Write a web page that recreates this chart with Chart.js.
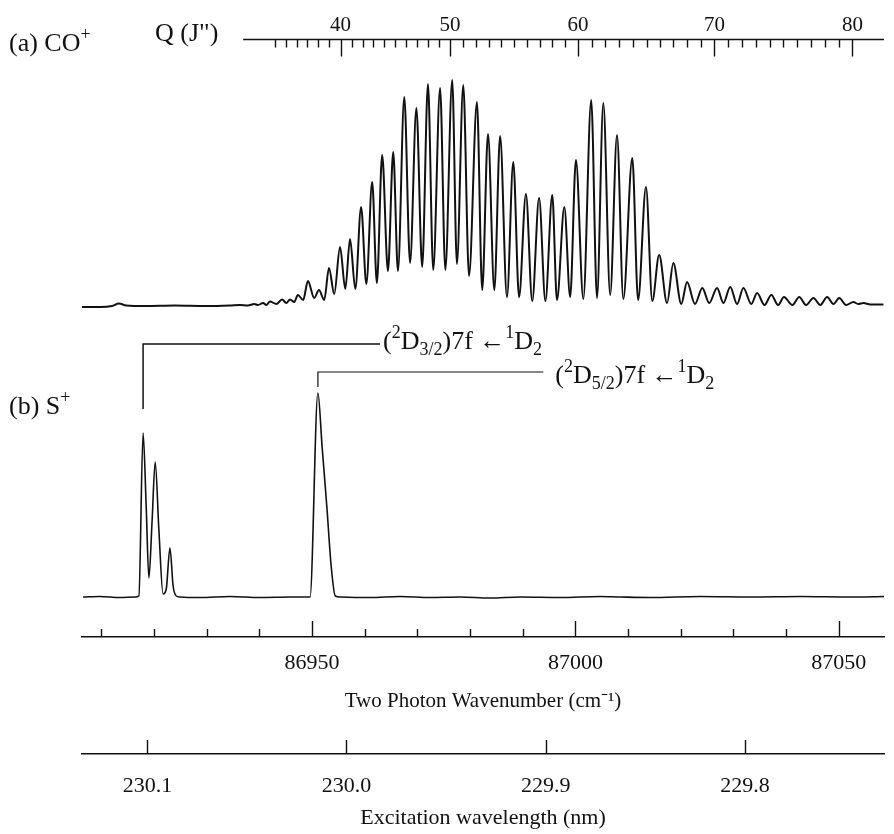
<!DOCTYPE html>
<html>
<head>
<meta charset="utf-8">
<title>CO+ / S+ two-photon spectra</title>
<script src="https://cdn.jsdelivr.net/npm/chart.js@4.4.1/dist/chart.umd.min.js"></script>
<style>
  html, body { margin: 0; padding: 0; background: #fff; }
  #chart { display: block; }
</style>
</head>
<body>
<canvas id="chart" width="894" height="834"></canvas>
<script>
// (a) CO+ spectrum: two photon wavenumber (cm-1) and signal (arb. units)
const coWn = [
  86906.3, 86909.7, 86912.0, 86913.3, 86914.7, 86918.3, 86924.0, 86929.7, 86934.4, 86936.3,
  86937.8, 86939.0, 86939.7, 86940.7, 86941.3, 86942.0, 86943.2, 86944.3, 86945.1, 86945.8,
  86946.6, 86947.3, 86948.3, 86949.2, 86950.4, 86951.3, 86952.3, 86953.2, 86954.2, 86955.3,
  86956.3, 86957.2, 86958.2, 86959.3, 86960.3, 86961.4, 86962.3, 86963.3, 86964.4, 86965.4,
  86966.3, 86967.5, 86968.6, 86969.8, 86970.9, 86972.0, 86973.0, 86974.3, 86975.3, 86976.6,
  86977.5, 86978.7, 86979.8, 86981.3, 86982.3, 86983.4, 86984.6, 86985.7, 86987.0, 86988.2,
  86989.3, 86990.6, 86991.8, 86993.1, 86994.3, 86995.6, 86996.5, 86997.9, 86999.0, 87000.1,
  87001.5, 87003.0, 87004.1, 87005.3, 87006.6, 87007.9, 87009.1, 87010.8, 87011.9, 87013.4,
  87014.6, 87015.9, 87017.4, 87018.6, 87020.1, 87021.2, 87022.7, 87024.1, 87025.4, 87026.9,
  87028.1, 87029.4, 87030.7, 87031.9, 87033.4, 87034.5, 87035.9, 87037.2, 87038.5, 87039.6,
  87041.2, 87042.5, 87043.8, 87045.2, 87046.5, 87047.8, 87049.0, 87050.1, 87051.4, 87052.8,
  87053.7, 87054.7, 87056.0, 87058.5
];
const coInt = [
  0, 0, 1, 3.5, 1.5, 1, 1.5, 1, 1.5, 2,
  1.5, 3, 2, 4, 2, 5.5, 3, 7.5, 4, 7.5,
  5, 12, 7, 26, 9, 17, 7, 39, 13, 60,
  18, 68, 18, 100, 23, 125, 24, 152, 36, 155,
  36, 210, 44, 199, 40, 223, 37, 219, 37, 227,
  43, 222, 31, 205, 17, 173, 17, 171, 10, 145,
  10, 113, 6, 109, 6, 112, 7, 100, 10, 147,
  8, 207, 9, 204, 12, 172, 8, 149, 7, 120,
  6, 52, 4, 44, 3, 25, 3, 19, 4, 19,
  4, 20, 3, 19, 3, 14, 2, 12, 2, 10,
  2, 10, 2, 9, 2, 10, 3, 9, 2, 5,
  3, 4, 2.5, 2.5
];

// (b) S+ spectrum
const sWn = [
  86906.5, 86909.7, 86913.5, 86916.4, 86917.1, 86917.9, 86918.5, 86919.0, 86919.6, 86920.2,
  86920.9, 86921.7, 86922.3, 86923.0, 86923.6, 86924.2, 86924.9, 86928.7, 86934.4, 86940.1,
  86945.8, 86949.6, 86951.1, 86951.9, 86952.8, 86953.6, 86954.4, 86955.3, 86961.0, 86966.7,
  86972.4, 86978.1, 86983.8, 86989.5, 86997.1, 87004.7, 87008.5, 87014.2, 87023.7, 87033.2,
  87042.7, 87052.2, 87058.6
];
const sInt = [
  0, 0.5, -0.5, 0, 1, 164, 89, 19, 75, 135,
  67, 3, 8, 49, 11, 1, 0, -0.5, 0.5, -0.5,
  0, 0, 204, 150, 90, 32, 1, 0, -0.5, 0.5,
  -0.5, 0, -1, 0, -0.5, 0.5, 0, -0.5, 0.5, 0,
  0.5, 0, 0.5
];

// assignment brackets over the S+ lines
const d32Wn = [86917.9, 86917.9, 86962.9];
const d32Int = [188, 253, 253];
const d52Wn = [86951.1, 86951.1, 86993.9];
const d52Int = [210, 225, 225];

// Q(J") rotational line positions (top scale)
const qJ = [34, 35, 36, 37, 38, 39, 40, 41, 42, 43, 44, 45, 46, 47, 48, 49, 50,
  51, 52, 53, 54, 55, 56, 57, 58, 59, 60, 61, 62, 63, 64, 65, 66, 67, 68, 69, 70,
  71, 72, 73, 74, 75, 76, 77, 78, 79, 80];
const qWn = [86942.9, 86945.0, 86947.1, 86949.1, 86951.2, 86953.3, 86955.4,
  86957.5, 86959.6, 86961.6, 86963.7, 86965.8, 86967.9, 86970.0, 86972.0, 86974.1, 86976.2,
  86978.6, 86981.1, 86983.5, 86985.9, 86988.4, 86990.8, 86993.2, 86995.6, 86998.1, 87000.5,
  87003.1, 87005.7, 87008.3, 87010.9, 87013.5, 87016.0, 87018.6, 87021.2, 87023.8, 87026.4,
  87029.0, 87031.6, 87034.3, 87036.9, 87039.5, 87042.1, 87044.7, 87047.4, 87050.0, 87052.6];

// bottom scales
const wnTicks = [86910, 86920, 86930, 86940, 86950, 86960, 86970, 86980, 86990,
  87000, 87010, 87020, 87030, 87040, 87050];
const wlTicks = [230.1, 230.0, 229.9, 229.8];

const wnMin = 86906.3, wnMax = 87058.6;
const qAxisStart = 86936.9;
const ink = '#111111';
const serif = '"Liberation Serif", "Times New Roman", serif';

const pts = (xs, ys) => xs.map((x, i) => ({ x: x, y: ys[i] }));

// text with super/subscripts: parts = [[text, 0 normal | 1 sup | -1 sub], ...]
function drawRich(ctx, parts, x, y, size) {
  ctx.textAlign = 'left';
  ctx.textBaseline = 'alphabetic';
  let cx = x;
  for (const [txt, mode] of parts) {
    const s = mode === 0 ? size : Math.round(size * 0.68);
    ctx.font = s + 'px ' + serif;
    const dy = mode === 1 ? -size * 0.42 : (mode === -1 ? size * 0.24 : 0);
    ctx.fillText(txt, cx, y + dy);
    cx += ctx.measureText(txt).width;
  }
}

const axisMarks = {
  id: 'axisMarks',
  afterDraw(chart) {
    const { ctx, chartArea, scales } = chart;
    const xs = scales.x, xl = scales.xl, xq = scales.xq, yb = scales.yb;
    ctx.save();
    ctx.strokeStyle = ink;
    ctx.lineWidth = 1.4;
    ctx.beginPath();
    // wavenumber ticks point up into the plot
    xs.ticks.forEach(t => {
      const px = Math.round(xs.getPixelForValue(t.value)) + 0.5;
      const len = Math.round(t.value) % 50 === 0 ? 16 : 8;
      ctx.moveTo(px, xs.top);
      ctx.lineTo(px, xs.top - len);
    });
    xl.ticks.forEach(t => {
      const px = Math.round(xl.getPixelForValue(t.value)) + 0.5;
      ctx.moveTo(px, xl.top);
      ctx.lineTo(px, xl.top - 14);
    });
    // Q(J") scale: line starts part way, ticks hang down
    const y0 = xq.bottom + 0.5;
    ctx.moveTo(xq.getPixelForValue(qAxisStart), y0);
    ctx.lineTo(chartArea.right, y0);
    xq.ticks.forEach((t, i) => {
      const px = Math.round(xq.getPixelForValue(t.value)) + 0.5;
      const len = qJ[i] % 10 === 0 ? 17 : 8;
      ctx.moveTo(px, y0);
      ctx.lineTo(px, y0 + len);
    });
    ctx.stroke();

    ctx.fillStyle = ink;
    drawRich(ctx, [['(a) CO', 0], ['+', 1]], 9, 51, 26);
    drawRich(ctx, [['Q (J")', 0]], 155, 41, 26);
    drawRich(ctx, [['(b) S', 0], ['+', 1]], 9, 414, 26);

    const l1x = xs.getPixelForValue(d32Wn[2]) + 3;
    const l1y = yb.getPixelForValue(d32Int[2]) + 5;
    drawRich(ctx, [['(', 0], ['2', 1], ['D', 0], ['3/2', -1], [')7f ', 0], ['\u2190', 0], ['1', 1], ['D', 0], ['2', -1]], l1x, l1y, 26);
    const l2x = xs.getPixelForValue(d52Wn[2]) + 12;
    const l2y = yb.getPixelForValue(d52Int[2]) + 11;
    drawRich(ctx, [['(', 0], ['2', 1], ['D', 0], ['5/2', -1], [')7f ', 0], ['\u2190', 0], ['1', 1], ['D', 0], ['2', -1]], l2x, l2y, 26);
    ctx.restore();
  }
};

const lineStyle = { borderColor: ink, pointRadius: 0, fill: false };

new Chart(document.getElementById('chart').getContext('2d'), {
  type: 'line',
  data: {
    datasets: [
      Object.assign({ data: pts(coWn, coInt), yAxisID: 'ya', borderWidth: 2, cubicInterpolationMode: 'monotone' }, lineStyle),
      Object.assign({ data: pts(sWn, sInt), yAxisID: 'yb', borderWidth: 1.6, cubicInterpolationMode: 'monotone' }, lineStyle),
      Object.assign({ data: pts(d32Wn, d32Int), yAxisID: 'yb', borderWidth: 1.5, tension: 0 }, lineStyle),
      Object.assign({ data: pts(d52Wn, d52Int), yAxisID: 'yb', borderWidth: 1.2, tension: 0 }, lineStyle)
    ]
  },
  options: {
    responsive: false,
    animation: false,
    devicePixelRatio: 1,
    layout: { padding: { left: 82, right: 10, top: 0, bottom: 0 } },
    plugins: { legend: { display: false }, tooltip: { enabled: false } },
    events: [],
    scales: {
      x: {
        type: 'linear', position: 'bottom', min: wnMin, max: wnMax,
        afterBuildTicks: s => { s.ticks = wnTicks.map(v => ({ value: v })); },
        afterFit: s => { s.height = 117; },
        grid: { display: false },
        border: { display: true, color: ink, width: 1.5 },
        ticks: {
          autoSkip: false, maxRotation: 0, minRotation: 0, padding: 5, color: ink,
          font: { family: serif, size: 22 },
          callback: v => (Math.round(v) % 50 === 0 ? String(Math.round(v)) : '')
        },
        title: {
          display: true, text: 'Two Photon Wavenumber (cm\u207B\u00B9)', color: ink,
          font: { family: serif, size: 21 }, padding: { top: 0, bottom: 40 }
        }
      },
      xl: {
        type: 'linear', position: 'bottom', min: wnMin, max: wnMax,
        // two photons: wavenumber = 2e7 / wavelength(nm)
        afterBuildTicks: s => { s.ticks = wlTicks.map(l => ({ value: 2e7 / l })); },
        afterFit: s => { s.height = 80; },
        grid: { display: false },
        border: { display: true, color: ink, width: 1.5 },
        ticks: {
          autoSkip: false, maxRotation: 0, minRotation: 0, padding: 11, color: ink,
          font: { family: serif, size: 22 },
          callback: (v, i) => wlTicks[i].toFixed(1)
        },
        title: {
          display: true, text: 'Excitation wavelength (nm)', color: ink,
          font: { family: serif, size: 22 }, padding: { top: 0, bottom: 3 }
        }
      },
      xq: {
        type: 'linear', position: 'top', min: wnMin, max: wnMax,
        afterBuildTicks: s => { s.ticks = qWn.map(v => ({ value: v })); },
        afterFit: s => { s.height = 39; },
        grid: { display: false },
        border: { display: false },
        ticks: {
          autoSkip: false, maxRotation: 0, minRotation: 0, padding: -7, color: ink,
          font: { family: serif, size: 21 },
          callback: (v, i) => (qJ[i] % 10 === 0 ? String(qJ[i]) : '')
        }
      },
      ya: { type: 'linear', display: false, min: -330, max: 268 },
      yb: { type: 'linear', display: false, min: -40, max: 558 }
    }
  },
  plugins: [axisMarks]
});
</script>
</body>
</html>
